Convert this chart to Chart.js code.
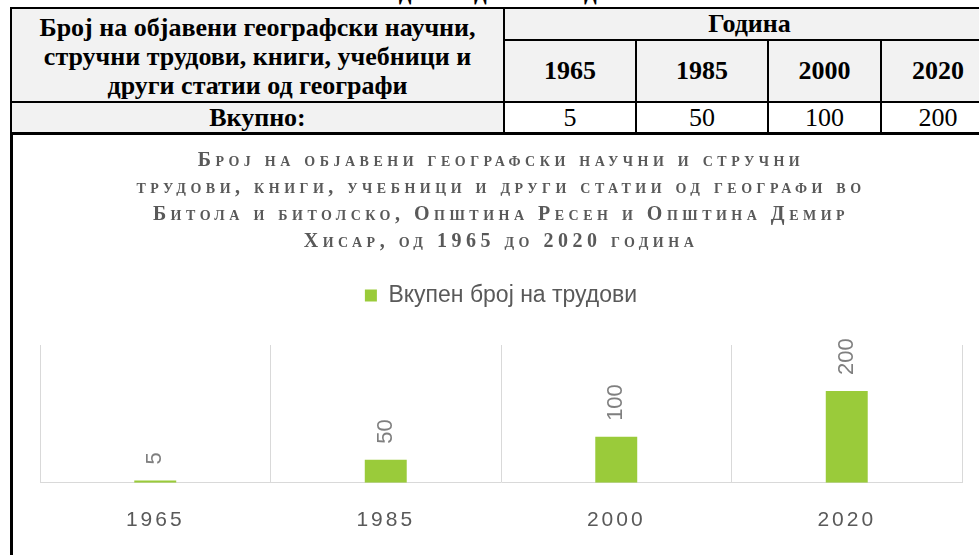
<!DOCTYPE html>
<html lang="mk">
<head>
<meta charset="utf-8">
<title>Број на објавени трудови од географи</title>
<script src="https://cdn.jsdelivr.net/npm/chart.js@4.4.1/dist/chart.umd.min.js"></script>
<style>
  html, body { margin: 0; padding: 0; background: #fff; }
  body { position: relative; width: 979px; height: 555px; overflow: hidden; }
  .caption {
    position: absolute; left: 375px; width: 275px; top: -22px; text-align: center;
    font: bold 25px/28px "Liberation Serif", "Times New Roman", serif; color: #000; white-space: nowrap;
  }
  #tbl {
    position: absolute; left: 10px; top: 7px; width: 984px; border-collapse: collapse; table-layout: fixed;
    font-family: "Liberation Serif", "Times New Roman", serif; color: #000; font-size: 26px; line-height: 28px;
  }
  #tbl th, #tbl td { border: 2px solid #000; padding: 0; text-align: center; background: #f2f2f2; }
  #tbl td { font-weight: normal; background: #fff; }
  #tbl .r1 th { height: 30px; }
  #tbl .r1 th.head { line-height: 29px; padding-top: 2px; }
  #tbl .r2 th { height: 60px; }
  #tbl .r3 th, #tbl .r3 td { height: 29px; border-bottom-width: 3px; }
  #box { position: absolute; left: 0; top: 134px; width: 979px; height: 421px; }
  .edge { position: absolute; left: 10px; top: 132px; width: 3px; height: 423px; background: #000; }
</style>
</head>
<body>
<div class="caption">од 1965 до 2020 година</div>
<table id="tbl">
  <colgroup>
    <col style="width:493px"><col style="width:132px"><col style="width:132px"><col style="width:113px"><col style="width:114px">
  </colgroup>
  <tr class="r1">
    <th rowspan="2" class="head">Број на објавени географски научни,<br>стручни трудови, книги, учебници и<br>други статии од географи</th>
    <th colspan="4">Година</th>
  </tr>
  <tr class="r2" id="yearRow"></tr>
  <tr class="r3" id="totalRow"><th>Вкупно:</th></tr>
</table>
<div id="box"><canvas id="chart" width="979" height="421"></canvas></div>
<div class="edge"></div>
<script>
const years = ['1965', '1985', '2000', '2020'];
const totals = [5, 50, 100, 200];
const seriesName = 'Вкупен број на трудови';
const titleLines = [
    'Број на објавени географски научни и стручни',
    'трудови, книги, учебници и други статии од географи во',
    'Битола и битолско, Општина Ресен и Општина Демир',
    'Хисар, од 1965 до 2020 година'
];

// table above the chart
const yearRow = document.getElementById('yearRow');
const totalRow = document.getElementById('totalRow');
years.forEach(function(y, i) {
    const th = document.createElement('th');
    th.textContent = y;
    yearRow.appendChild(th);
    const td = document.createElement('td');
    td.textContent = totals[i];
    totalRow.appendChild(td);
});

Chart.defaults.font.family = '"Liberation Sans", Arial, sans-serif';
Chart.defaults.color = '#595959';

// vertical value labels over the bars
const barLabels = {
    id: 'barLabels',
    afterDatasetsDraw(chart) {
        const ctx = chart.ctx;
        const ds = chart.data.datasets[0];
        ctx.save();
        ctx.fillStyle = '#7f7f7f';
        ctx.font = '22px "Liberation Sans", Arial, sans-serif';
        ctx.textAlign = 'left';
        ctx.textBaseline = 'middle';
        chart.getDatasetMeta(0).data.forEach(function(bar, i) {
            ctx.save();
            ctx.translate(bar.x, bar.y - 16);
            ctx.rotate(-Math.PI / 2);
            ctx.fillText(String(ds.data[i]), 0, 0);
            ctx.restore();
        });
        ctx.restore();
    }
};

// title and category labels use letter spacing
function spaced(box, method, px) {
    if (!box || box[method]._spaced) return;
    const orig = box[method];
    box[method] = function() {
        const ctx = this.ctx;
        ctx.save();
        ctx.letterSpacing = px;
        orig.apply(this, arguments);
        ctx.restore();
    };
    box[method]._spaced = true;
}
const letterSpacing = {
    id: 'letterSpacing',
    afterLayout(chart) {
        spaced(chart.titleBlock, 'draw', '4.5px');
        spaced(chart.scales.x, 'drawLabels', '3px');
    }
};

new Chart(document.getElementById('chart'), {
    type: 'bar',
    data: {
        labels: years,
        datasets: [{
            label: seriesName,
            data: totals,
            backgroundColor: '#9acb3a',
            categoryPercentage: 1,
            barPercentage: 0.182
        }]
    },
    options: {
        responsive: false,
        animation: false,
        devicePixelRatio: 1,
        layout: { padding: { left: 40, right: 17, top: 0, bottom: -3 } },
        plugins: {
            title: {
                display: true,
                text: titleLines,
                color: '#595959',
                font: { family: '"Liberation Serif", "Times New Roman", serif', size: 20, weight: 'small-caps bold', lineHeight: '27px' },
                padding: { top: 13.5, bottom: 18.5 }
            },
            // empty spacer between the legend and the plot
            subtitle: { display: true, text: '', weight: 500, padding: 0, font: { size: 12, lineHeight: '28px' } },
            legend: {
                labels: { boxWidth: 12, boxHeight: 12, color: '#595959', font: { size: 23 }, padding: 10 }
            },
            tooltip: { enabled: false }
        },
        scales: {
            x: {
                grid: { offset: true, color: '#d9d9d9', drawTicks: false },
                border: { color: '#d9d9d9' },
                ticks: { color: '#595959', font: { size: 21 }, padding: 25 }
            },
            y: { display: false, min: 0, max: 300 }
        }
    },
    plugins: [barLabels, letterSpacing]
});
</script>
</body>
</html>
